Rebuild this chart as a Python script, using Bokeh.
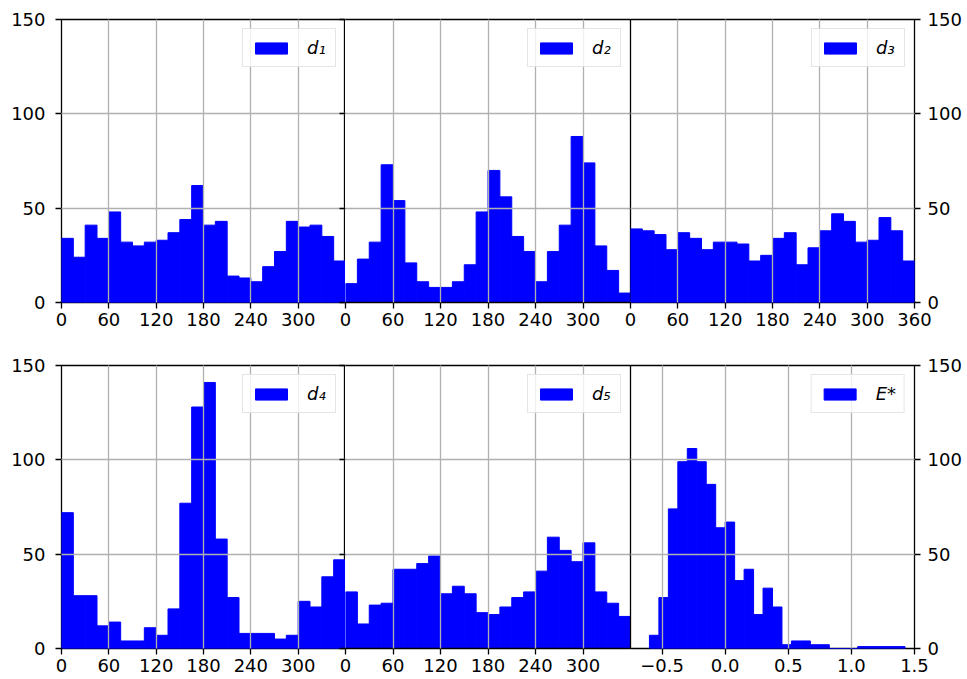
import numpy as np
from bokeh.plotting import figure
from bokeh.layouts import row, column
from bokeh.models import FixedTicker, Legend, LegendItem, LinearAxis, Range1d
from bokeh.embed import file_html
from bokeh.resources import INLINE

# Histogram bin edges: 24 angular bins of 15 degrees, 27 energy bins of 0.075
angle_edges = np.linspace(0, 360, 25)
energy_edges = np.linspace(-0.6, 1.425, 28)

# Counts per bin for each dihedral angle and for the energy
d1_counts = [34, 24, 41, 34, 48, 32, 30, 32, 33, 37, 44, 62,
             41, 43, 14, 13, 11, 19, 27, 43, 40, 41, 35, 22]
d2_counts = [10, 23, 32, 73, 54, 21, 11, 8, 8, 11, 20, 48,
             70, 56, 35, 27, 11, 27, 41, 88, 74, 30, 17, 5]
d3_counts = [39, 38, 36, 28, 37, 34, 28, 32, 32, 31, 22, 25,
             34, 37, 20, 29, 38, 47, 43, 32, 33, 45, 38, 22]
d4_counts = [72, 28, 28, 12, 14, 4, 4, 11, 7, 21, 77, 128,
             141, 58, 27, 8, 8, 8, 5, 7, 25, 22, 38, 47]
d5_counts = [30, 13, 23, 24, 42, 42, 45, 49, 29, 33, 29, 19,
             18, 22, 27, 30, 41, 59, 52, 46, 56, 30, 24, 17]
e_counts = [7, 27, 74, 99, 106, 99, 87, 64, 67, 36, 42, 18, 32, 22,
            2, 4, 4, 2, 2, 0, 0, 0, 1, 1, 1, 1, 1]

angle_ticks = [0, 60, 120, 180, 240, 300]
angle_ticks_full = [0, 60, 120, 180, 240, 300, 360]
energy_ticks = [-0.5, 0.0, 0.5, 1.0, 1.5]
energy_tick_labels = {-0.5: "\u22120.5", 0.0: "0.0", 0.5: "0.5", 1.0: "1.0", 1.5: "1.5"}
count_ticks = [0, 50, 100, 150]

FONT = "DejaVu Sans"
FS = "18px"
LW = 1.3
OVERLAP = 12          # transparent left border that lets tick labels spill over the shared spine
FRAME_W = [284, 285, 284]
ROW_H = [(19, 283, 32), (31, 283, 31)]   # (top border, frame height, bottom border)


def panel(counts, edges, xr, xticks, label, col, row_idx, xlabels=None):
    top, fh, bottom = ROW_H[row_idx]
    fw = FRAME_W[col]
    if col == 0:
        left_b, right_b, yloc = 61, 0, "left"
    elif col == 1:
        left_b, right_b, yloc = OVERLAP, 0, "left"
    else:
        left_b, right_b, yloc = OVERLAP, 53, "right"
    kw = {}
    if col > 0:
        kw["margin"] = (0, 0, 0, -OVERLAP)
    p = figure(width=left_b + fw + right_b, height=top + fh + bottom,
               x_range=Range1d(*xr), y_range=Range1d(0, 150),
               y_axis_location=yloc, output_backend="svg", toolbar_location=None,
               min_border_left=left_b, min_border_right=right_b,
               min_border_top=top, min_border_bottom=bottom,
               border_fill_color=None, background_fill_color="white", **kw)
    r = p.quad(left=edges[:-1], right=edges[1:], bottom=0, top=counts,
               fill_color="#0000ff", line_color="#0000ff", line_width=1)

    p.xaxis.ticker = FixedTicker(ticks=xticks)
    p.yaxis.ticker = FixedTicker(ticks=count_ticks)
    if xlabels:
        p.xaxis.major_label_overrides = xlabels
    for ax in p.axis:
        ax.axis_line_color = None
        ax.major_tick_line_color = "black"
        ax.major_tick_line_width = LW
        ax.major_tick_out = 6
        ax.major_tick_in = 0
        ax.minor_tick_line_color = None
        ax.major_label_text_font = FONT
        ax.major_label_text_font_size = FS
        ax.major_label_text_color = "black"
    p.xaxis.major_label_standoff = 4

    if col == 1:
        # middle panel: its side spines come from the neighbours' frames,
        # so only the top and bottom spines are drawn here
        p.outline_line_color = None
        p.xaxis.axis_line_color = "black"
        p.xaxis.axis_line_width = LW
        top_spine = LinearAxis(ticker=FixedTicker(ticks=[]), axis_line_color="black",
                               axis_line_width=LW, major_tick_line_color=None,
                               minor_tick_line_color=None, major_label_text_font_size="0px",
                               major_label_standoff=0)
        p.add_layout(top_spine, "above")
        p.yaxis.major_label_overrides = {t: "" for t in count_ticks}
        p.yaxis.major_label_standoff = 0
    else:
        p.outline_line_color = "black"
        p.outline_line_width = LW
        p.yaxis.major_label_standoff = 10 if col == 0 else 7

    for g in (p.xgrid, p.ygrid):
        g.grid_line_color = "#b0b0b0"
        g.grid_line_width = LW
        g.level = "guide"

    legend = Legend(items=[LegendItem(label=label, renderers=[r])],
                    location="top_right", margin=9, padding=8, spacing=0,
                    glyph_width=40, glyph_height=14, label_standoff=16,
                    label_text_font=FONT, label_text_font_size=FS,
                    label_text_font_style="italic", label_text_color="black",
                    border_line_color="#cccccc", border_line_width=1,
                    background_fill_color="white", background_fill_alpha=0.8)
    p.add_layout(legend)
    return p


f1 = panel(d1_counts, angle_edges, (0, 360), angle_ticks, "d\u2081", 0, 0)
f2 = panel(d2_counts, angle_edges, (0, 360), angle_ticks, "d\u2082", 1, 0)
f3 = panel(d3_counts, angle_edges, (0, 360), angle_ticks_full, "d\u2083", 2, 0)
f4 = panel(d4_counts, angle_edges, (0, 360), angle_ticks, "d\u2084", 0, 1)
f5 = panel(d5_counts, angle_edges, (0, 360), angle_ticks, "d\u2085", 1, 1)
f6 = panel(e_counts, energy_edges, (-0.75, 1.5), energy_ticks, "E*", 2, 1,
           xlabels=energy_tick_labels)

layout = column(row(f1, f2, f3), row(f4, f5, f6))

with open("out.html", "w") as fh:
    fh.write(file_html(layout, INLINE))
